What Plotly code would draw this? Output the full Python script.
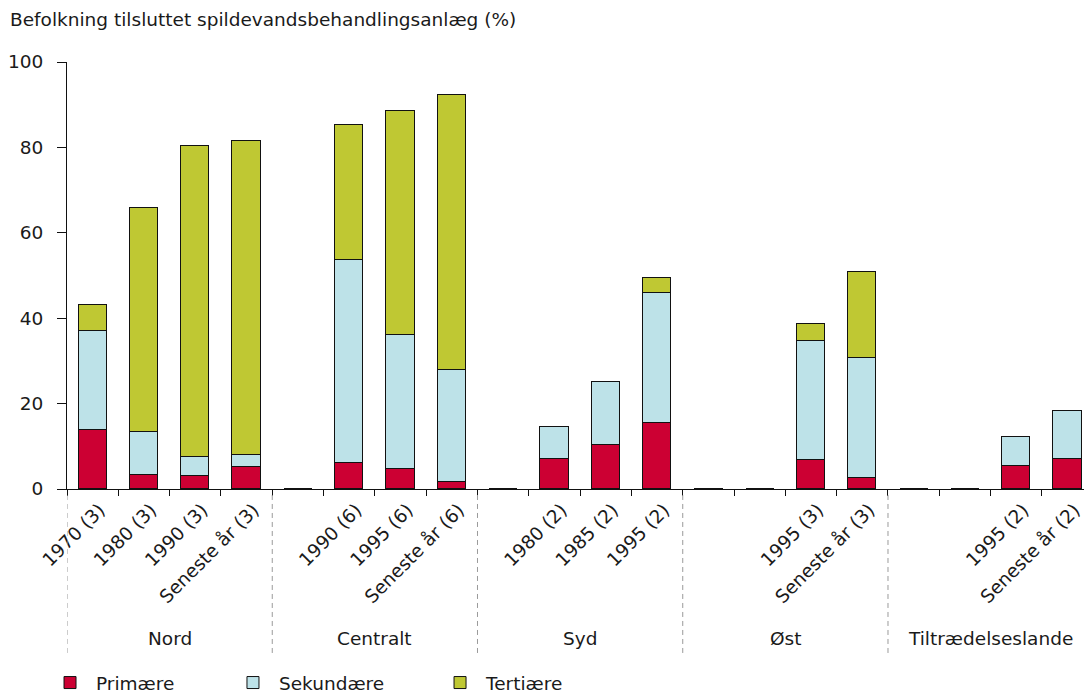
import plotly.graph_objects as go

# Slot labels along the x axis (empty string = region has no figure for that period)
slot_labels = [
    "1970 (3)", "1980 (3)", "1990 (3)", "Seneste år (3)",
    "", "1990 (6)", "1995 (6)", "Seneste år (6)",
    "", "1980 (2)", "1985 (2)", "1995 (2)",
    "", "", "1995 (3)", "Seneste år (3)",
    "", "", "1995 (2)", "Seneste år (2)",
]
regions = ["Nord", "Centralt", "Syd", "Øst", "Tiltrædelseslande"]
slots_per_region = 4

# Population connected to wastewater treatment (%), by treatment level
primaere = [13.8, 3.2, 3.0, 5.2, 0, 6.2, 4.7, 1.7, 0, 7.1, 10.4, 15.5, 0, 0, 6.8, 2.6, 0, 0, 5.3, 7.0]
sekundaere = [23.2, 10.2, 4.6, 2.7, 0, 47.4, 31.4, 26.2, 0, 7.5, 14.7, 30.3, 0, 0, 27.8, 28.1, 0, 0, 6.8, 11.3]
tertiaere = [6.1, 52.3, 72.7, 73.7, 0, 31.7, 52.5, 64.4, 0, 0, 0, 3.6, 0, 0, 4.0, 20.1, 0, 0, 0, 0]

series = [
    ("Primære", primaere, "#CC0033", "legend", -0.0226),
    ("Sekundære", sekundaere, "#BDE2E8", "legend2", 0.1573),
    ("Tertiære", tertiaere, "#BFC833", "legend3", 0.3609),
]

FONT = "DejaVu Sans"
TXT = "#1a1a1a"
FS = 18.5

xs = list(range(len(slot_labels)))
fig = go.Figure()
for name, vals, color, leg, _ in series:
    fig.add_trace(go.Bar(
        x=xs, y=vals, name=name, width=0.55, legend=leg,
        marker=dict(color=color, line=dict(color="#111111", width=1)),
    ))

# Invisible trace on a second x axis that carries the boundary tick marks
fig.add_trace(go.Scatter(x=[0], y=[0], xaxis="x2", mode="markers",
                         marker=dict(opacity=0), showlegend=False, hoverinfo="skip"))

n = len(slot_labels)
x_range = [-0.5, 19.32]
boundaries = [i - 0.5 for i in range(n + 1)]

legend_style = dict(
    orientation="h", xanchor="left", yref="container", y=0.0144, yanchor="middle",
    font=dict(family=FONT, size=FS, color=TXT), itemwidth=42,
    bgcolor="rgba(0,0,0,0)",
)

fig.update_layout(
    width=1084, height=693,
    margin=dict(l=67, r=0, t=62, b=204),
    plot_bgcolor="white", paper_bgcolor="white",
    barmode="stack",
    bargap=0,
    font=dict(family=FONT, size=FS, color=TXT),
    xaxis=dict(
        range=x_range, tickmode="array", tickvals=xs, ticktext=slot_labels,
        tickangle=-45, ticks="", showgrid=False, zeroline=False,
        ticklabelshift=7, ticklabelstandoff=2,
        showline=True, linecolor="#111111", linewidth=1, automargin=False,
        tickfont=dict(family=FONT, size=18.5, color=TXT),
    ),
    xaxis2=dict(
        range=x_range, overlaying="x", side="bottom", anchor="y",
        tickmode="array", tickvals=boundaries, showticklabels=False,
        ticks="outside", ticklen=6, tickcolor="#111111", tickwidth=1,
        showgrid=False, zeroline=False, showline=False,
    ),
    yaxis=dict(
        range=[0, 100], tickmode="array", tickvals=[0, 20, 40, 60, 80, 100],
        ticks="outside", ticklen=9, tickcolor="#111111", tickwidth=1,
        ticklabelstandoff=10, automargin=False,
        showgrid=False, zeroline=False, showline=True, linecolor="#111111", linewidth=1,
        tickfont=dict(family=FONT, size=FS, color=TXT),
    ),
    legend=dict(x=series[0][4], **legend_style),
    legend2=dict(x=series[1][4], **legend_style),
    legend3=dict(x=series[2][4], **legend_style),
    showlegend=True,
)

# Dashed region separators and region names below the axis
shapes = []
annotations = []
for r, region in enumerate(regions):
    left = r * slots_per_region - 0.5
    shapes.append(dict(type="line", xref="x", yref="paper", x0=left, x1=left,
                       y0=-0.014, y1=-0.391,
                       line=dict(color="#9a9a9a", width=1, dash="5px,4px")))
    annotations.append(dict(xref="x", yref="paper", x=left + slots_per_region / 2,
                            y=-0.349, text=region, showarrow=False,
                            xanchor="center", yanchor="middle",
                            font=dict(family=FONT, size=FS, color=TXT)))

annotations.append(dict(xref="paper", yref="paper", x=(8 - 67) / 1017, y=1.0 + 42 / 427,
                        text="Befolkning tilsluttet spildevandsbehandlingsanlæg (%)",
                        showarrow=False, xanchor="left", yanchor="middle",
                        font=dict(family=FONT, size=FS, color=TXT)))

fig.update_layout(shapes=shapes, annotations=annotations)

fig.write_html("out.html")
